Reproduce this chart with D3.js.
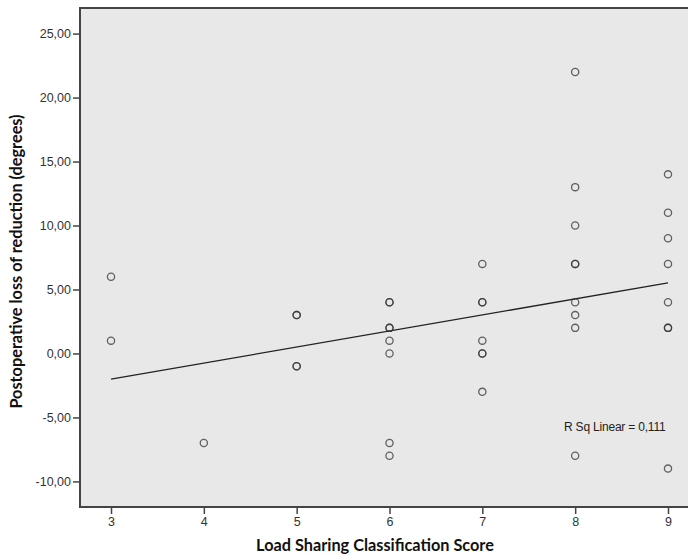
<!DOCTYPE html>
<html>
<head>
  <meta charset="utf-8">
  <title>Scatter with fit line</title>
  <script src="https://d3js.org/d3.v7.min.js"></script>
  <style>
    body { margin: 0; background: #fff; }
    .tick text { font-family: "Liberation Sans", Arial, sans-serif; font-size: 12.5px; fill: #333; }
    .tick line { stroke: #444; stroke-width: 1.5; }
    .domain { display: none; }
    .title { font-family: Lato, "Open Sans", sans-serif; font-weight: bold; font-size: 16.3px; fill: #111; }
  </style>
</head>
<body>
<svg id="chart" width="688" height="556"></svg>
<script>
// load sharing score per group and the loss of reduction values
const scores = [3, 4, 5, 6, 7, 8, 9];
const lossByScore = [
  [6, 1],
  [-7],
  [3, 3, -1, -1],
  [4, 4, 2, 2, 1, 0, -7, -8],
  [7, 4, 4, 1, 0, 0, -3],
  [22, 13, 10, 7, 7, 4, 3, 2, -8],
  [14, 11, 9, 7, 4, 2, 2, -9]
];
const yTicks = [-10, -5, 0, 5, 10, 15, 20, 25];
const rsqLabel = "R Sq Linear = 0,111";

const points = [];
scores.forEach((s, i) => lossByScore[i].forEach(v => points.push({x: s, y: v})));

const svg = d3.select("#chart");
const plotL = 80, plotT = 8, plotB = 507, plotR = 699;

const x = d3.scaleLinear().domain([2.666, 9.334]).range([plotL, plotR]);
const y = d3.scaleLinear().domain([-12, 27]).range([plotB, plotT]);

// plot background
svg.append("rect")
  .attr("x", plotL).attr("y", plotT)
  .attr("width", plotR - plotL).attr("height", plotB - plotT)
  .attr("fill", "#e8e8e8")
  .attr("stroke", "#444").attr("stroke-width", 2);

// SPSS style: comma decimals, plain hyphen for minus
const fmt = d => d.toFixed(2).replace(".", ",");

svg.append("g")
  .attr("transform", `translate(${plotL},0)`)
  .call(d3.axisLeft(y).tickValues(yTicks).tickFormat(fmt).tickSize(7).tickPadding(2));

svg.append("g")
  .attr("transform", `translate(0,${plotB})`)
  .call(d3.axisBottom(x).tickValues(scores).tickFormat(d => String(d)).tickSize(7).tickPadding(3));

// least squares line
const mx = d3.mean(points, d => d.x), my = d3.mean(points, d => d.y);
const slope = d3.sum(points, d => (d.x - mx) * (d.y - my)) / d3.sum(points, d => (d.x - mx) ** 2);
const fit = v => my + slope * (v - mx);
const x0 = d3.min(scores), x1 = d3.max(scores);

svg.append("line")
  .attr("x1", x(x0)).attr("y1", y(fit(x0)))
  .attr("x2", x(x1)).attr("y2", y(fit(x1)))
  .attr("stroke", "#222").attr("stroke-width", 1.3);

svg.append("g").selectAll("circle")
  .data(points)
  .enter()
  .append("circle")
  .attr("cx", d => x(d.x))
  .attr("cy", d => y(d.y))
  .attr("r", 3.6)
  .attr("fill", "none")
  .attr("stroke", "#333")
  .attr("stroke-opacity", 0.75)
  .attr("stroke-width", 1.3);

svg.append("text")
  .attr("x", 564).attr("y", 431)
  .style("font-family", "'Liberation Sans', Arial, sans-serif")
  .style("font-size", "12px")
  .style("fill", "#222")
  .style("letter-spacing", "-0.2px")
  .text(rsqLabel);

svg.append("text")
  .attr("class", "title")
  .attr("x", 375).attr("y", 551)
  .attr("text-anchor", "middle")
  .text("Load Sharing Classification Score");

svg.append("text")
  .attr("class", "title")
  .attr("transform", `translate(22,${(plotT + plotB) / 2 + 4}) rotate(-90)`)
  .attr("text-anchor", "middle")
  .text("Postoperative loss of reduction (degrees)");
</script>
</body>
</html>
